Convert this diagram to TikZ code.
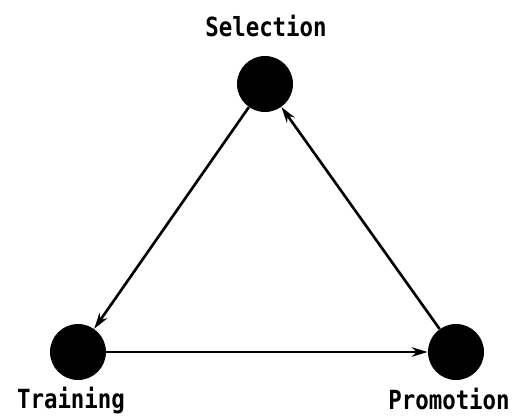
\documentclass[tikz,border=0pt]{standalone}
\usepackage{fontspec}
\setmonofont[FakeStretch=0.85]{DejaVu Sans Mono}
\usetikzlibrary{arrows.meta}

\begin{document}
\begin{tikzpicture}[x=0.02cm, y=-0.02cm,
  stage/.style={circle, fill=black, minimum size=1.12cm, inner sep=0pt},
  lbl/.style={font=\fontsize{15}{17}\selectfont\ttfamily\bfseries, inner sep=0pt, anchor=base},
  ar/.style={-{Stealth[length=3.2mm, width=1.9mm]}, line width=1.5pt}]
\useasboundingbox (0,0) rectangle (519,415);

\node[stage] at (265,84) (sel) {};
\node[stage] at (78,352) (trn) {};
\node[stage] at (456,352) (pro) {};

\node[lbl] at (266,37) (selt) {Selection};
\node[lbl] at (71,408) (trnt) {Training};
\node[lbl] at (449,409) (prot) {Promotion};

% the cycle
\draw[ar] (sel) -- (trn);
\draw[ar] (trn) -- (pro);
\draw[ar] (pro) -- (sel);
\end{tikzpicture}
\end{document}
